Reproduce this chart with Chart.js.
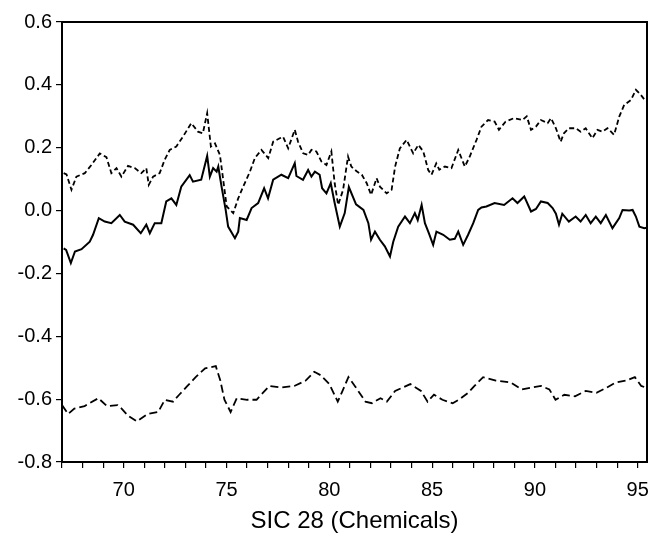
<!DOCTYPE html>
<html>
<head>
<meta charset="utf-8">
<script src="https://cdn.jsdelivr.net/npm/chart.js@4.4.1/dist/chart.umd.min.js"></script>
<style>
html,body{margin:0;padding:0;background:#fff;}
#wrap{width:670px;height:544px;}
</style>
</head>
<body>
<div id="wrap"><canvas id="c" width="670" height="544"></canvas></div>
<script>
// Top series (short dashes): [year, value]
const upperX = [67.08,67.22,67.46,67.70,68.11,68.43,68.84,69.16,69.40,69.65,69.89,70.21,70.54,70.86,71.10,71.22,71.43,71.75,71.99,72.24,72.56,72.88,73.29,73.61,73.85,74.06,74.24,74.44,74.68,74.84,75.01,75.33,75.57,75.81,76.14,76.38,76.70,77.03,77.27,77.59,77.75,78.00,78.32,78.48,78.73,78.97,79.13,79.37,79.62,79.86,80.10,80.26,80.43,80.67,80.91,81.07,81.33,81.58,81.82,82.03,82.30,82.46,82.79,83.03,83.20,83.43,83.76,84.08,84.33,84.57,84.81,84.97,85.20,85.35,85.62,85.94,86.27,86.59,86.83,87.16,87.40,87.72,88.04,88.25,88.57,88.98,89.39,89.60,89.81,90.05,90.29,90.62,90.78,91.02,91.25,91.41,91.65,91.98,92.22,92.47,92.79,93.04,93.28,93.53,93.85,94.10,94.34,94.67,94.91,95.15,95.40];
const upperY = [0.119,0.115,0.066,0.108,0.119,0.145,0.182,0.170,0.119,0.135,0.108,0.142,0.135,0.119,0.135,0.082,0.108,0.119,0.161,0.193,0.204,0.235,0.278,0.251,0.246,0.310,0.204,0.214,0.177,0.098,0.013,-0.008,0.039,0.076,0.124,0.167,0.193,0.167,0.219,0.230,0.235,0.198,0.257,0.219,0.182,0.177,0.193,0.188,0.156,0.145,0.188,0.087,0.018,0.066,0.172,0.140,0.125,0.114,0.087,0.050,0.103,0.076,0.055,0.066,0.140,0.198,0.225,0.182,0.209,0.188,0.129,0.114,0.150,0.130,0.140,0.135,0.193,0.140,0.172,0.225,0.267,0.288,0.283,0.257,0.283,0.294,0.288,0.300,0.257,0.267,0.288,0.278,0.294,0.262,0.219,0.246,0.262,0.262,0.251,0.262,0.230,0.257,0.251,0.262,0.241,0.299,0.336,0.352,0.384,0.368,0.347];

// Middle series (solid)
const middleX = [67.08,67.20,67.43,67.63,67.95,68.35,68.51,68.79,69.08,69.40,69.81,70.05,70.46,70.83,71.10,71.27,71.51,71.83,72.07,72.32,72.56,72.80,73.21,73.37,73.77,74.06,74.19,74.35,74.52,74.60,74.76,74.96,75.08,75.41,75.57,75.65,75.98,76.22,76.54,76.83,77.02,77.27,77.67,78.00,78.32,78.40,78.72,78.97,79.13,79.30,79.53,79.65,79.86,80.07,80.26,80.51,80.75,80.95,81.30,81.66,81.90,82.03,82.22,82.46,82.70,82.95,83.11,83.35,83.68,83.92,84.16,84.30,84.49,84.65,84.84,85.05,85.21,85.54,85.86,86.10,86.27,86.51,86.75,87.00,87.24,87.40,87.64,88.04,88.50,88.91,89.15,89.48,89.81,90.05,90.29,90.62,90.86,91.02,91.17,91.33,91.65,91.98,92.22,92.47,92.71,92.96,93.20,93.45,93.77,94.10,94.26,94.59,94.75,94.91,95.08,95.32,95.42];
const middleY = [-0.120,-0.125,-0.167,-0.130,-0.123,-0.099,-0.077,-0.024,-0.035,-0.040,-0.014,-0.035,-0.045,-0.072,-0.045,-0.072,-0.040,-0.040,0.029,0.039,0.018,0.076,0.113,0.092,0.098,0.174,0.108,0.135,0.124,0.140,0.076,0.002,-0.051,-0.088,-0.067,-0.024,-0.030,0.008,0.024,0.071,0.039,0.098,0.114,0.103,0.151,0.110,0.098,0.129,0.108,0.124,0.114,0.071,0.055,0.087,0.024,-0.051,-0.008,0.075,0.020,0.002,-0.040,-0.093,-0.067,-0.093,-0.114,-0.146,-0.099,-0.051,-0.019,-0.040,-0.008,-0.030,0.018,-0.040,-0.072,-0.109,-0.067,-0.077,-0.093,-0.090,-0.067,-0.109,-0.077,-0.040,0.002,0.010,0.013,0.024,0.018,0.039,0.024,0.045,-0.003,0.005,0.029,0.024,0.008,-0.010,-0.045,-0.010,-0.035,-0.019,-0.035,-0.014,-0.040,-0.019,-0.040,-0.014,-0.056,-0.024,0.002,0.000,0.002,-0.019,-0.051,-0.056,-0.055];

// Lower series (long dashes)
const lowerX = [67.00,67.30,67.60,68.10,68.77,69.18,69.70,69.90,70.20,70.64,71.16,71.68,72.00,72.40,72.70,73.10,73.50,73.96,74.48,74.70,74.90,75.20,75.50,76.00,76.46,77.08,77.70,78.30,78.85,79.27,79.58,80.00,80.41,80.60,80.93,81.24,81.76,82.07,82.49,82.80,83.20,83.94,84.46,84.78,85.09,85.50,86.00,86.30,86.75,87.06,87.48,88.10,88.83,89.35,89.87,90.30,90.70,91.00,91.43,91.95,92.47,92.99,93.50,93.92,94.44,94.86,95.17,95.38];
const lowerY = [-0.619,-0.647,-0.630,-0.622,-0.597,-0.622,-0.619,-0.630,-0.652,-0.671,-0.647,-0.641,-0.602,-0.608,-0.586,-0.558,-0.530,-0.502,-0.495,-0.541,-0.602,-0.641,-0.597,-0.602,-0.602,-0.558,-0.563,-0.558,-0.541,-0.513,-0.524,-0.552,-0.608,-0.580,-0.530,-0.558,-0.608,-0.613,-0.597,-0.608,-0.574,-0.552,-0.574,-0.608,-0.586,-0.602,-0.613,-0.602,-0.580,-0.558,-0.530,-0.541,-0.547,-0.569,-0.563,-0.558,-0.569,-0.602,-0.586,-0.591,-0.574,-0.580,-0.563,-0.547,-0.541,-0.530,-0.558,-0.563];

const xTitle = 'SIC 28 (Chemicals)';
const yTicks = [-0.8,-0.6,-0.4,-0.2,0.0,0.2,0.4,0.6];
const xMajor = [70,75,80,85,90,95];

function pts(xs, ys){ return xs.map((x,i)=>({x:x, y:ys[i]})); }

const FONT = "'Liberation Sans', Arial, Helvetica, sans-serif";

const framePlugin = {
  id:'frame',
  afterDraw(chart){
    const {ctx, chartArea:a} = chart;
    ctx.save();
    ctx.strokeStyle = '#000';
    ctx.lineWidth = 2;
    ctx.strokeRect(a.left, a.top, a.right - a.left, a.bottom - a.top);
    ctx.restore();
  }
};

new Chart(document.getElementById('c'), {
  type:'line',
  data:{
    datasets:[
      {data:pts(upperX, upperY), borderColor:'#000', borderWidth:1.8, borderDash:[5,3], pointRadius:0, tension:0, fill:false},
      {data:pts(middleX, middleY), borderColor:'#000', borderWidth:2, pointRadius:0, tension:0, fill:false},
      {data:pts(lowerX, lowerY), borderColor:'#000', borderWidth:1.8, borderDash:[8,4], pointRadius:0, tension:0, fill:false}
    ]
  },
  options:{
    responsive:false,
    animation:false,
    events:[],
    layout:{padding:{top:22, right:23, left:0, bottom:0}},
    plugins:{legend:{display:false}, tooltip:{enabled:false}},
    scales:{
      x:{
        type:'linear', min:67, max:95.45,
        afterFit(s){ s.height = 82; },
        border:{display:true, color:'#000', width:2},
        grid:{display:true, drawOnChartArea:false, drawTicks:true, tickLength:6, color:'#000', lineWidth:1.2},
        ticks:{stepSize:1, autoSkip:false, includeBounds:false, maxTicksLimit:100, maxRotation:0, minRotation:0,
          color:'#000', font:{family:FONT, size:20}, padding:10,
          callback:(v)=> xMajor.includes(Math.round(v)) && Math.abs(v-Math.round(v))<1e-6 ? String(Math.round(v)) : ''},
        title:{display:true, text:xTitle, color:'#000', font:{family:FONT, size:24}, padding:{top:0, bottom:8}}
      },
      y:{
        type:'linear', min:-0.8, max:0.6,
        afterFit(s){ s.width = 62; },
        border:{display:true, color:'#000', width:2},
        grid:{display:true, drawOnChartArea:false, drawTicks:true, tickLength:6, color:'#000', lineWidth:1.2},
        ticks:{stepSize:0.2, maxTicksLimit:100, color:'#000', font:{family:FONT, size:20}, padding:4,
          callback:(v)=>{ const r = yTicks.find(t=>Math.abs(t-v)<1e-6); return r===undefined ? '' : r.toFixed(1); }}
      }
    }
  },
  plugins:[framePlugin]
});
</script>
</body>
</html>
